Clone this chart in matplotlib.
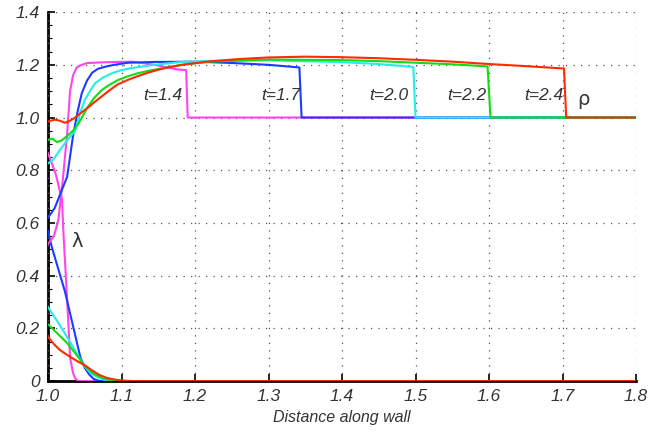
import matplotlib
matplotlib.use("Agg")
import matplotlib.pyplot as plt
from matplotlib.ticker import MultipleLocator, FixedLocator

# ---- data ----
# rho curves
x_rho_m = [1.0, 1.008, 1.014, 1.02, 1.026, 1.03, 1.034, 1.039, 1.046, 1.054, 1.08, 1.114, 1.145, 1.177, 1.188, 1.19, 1.8]
y_rho_m = [0.52, 0.55, 0.61, 0.76, 0.94, 1.1, 1.16, 1.19, 1.2, 1.207, 1.21, 1.212, 1.2, 1.182, 1.18, 1.0, 1.0]

x_rho_b = [1.0, 1.009, 1.026, 1.034, 1.04, 1.046, 1.053, 1.06, 1.068, 1.078, 1.09, 1.109, 1.145, 1.2, 1.25, 1.3, 1.342, 1.345, 1.8]
y_rho_b = [0.62, 0.656, 0.775, 0.93, 1.02, 1.093, 1.14, 1.17, 1.185, 1.193, 1.2, 1.208, 1.211, 1.212, 1.207, 1.2, 1.19, 1.0, 1.0]

x_rho_c = [1.0, 1.007, 1.016, 1.025, 1.037, 1.044, 1.05, 1.057, 1.064, 1.075, 1.087, 1.1, 1.114, 1.145, 1.178, 1.22, 1.3, 1.4, 1.45, 1.497, 1.5, 1.8]
y_rho_c = [0.826, 0.84, 0.876, 0.91, 0.95, 1.02, 1.066, 1.1, 1.13, 1.152, 1.168, 1.18, 1.188, 1.2, 1.21, 1.215, 1.217, 1.21, 1.203, 1.192, 1.0, 1.0]

x_rho_g = [1.0, 1.006, 1.012, 1.018, 1.026, 1.034, 1.041, 1.054, 1.063, 1.073, 1.084, 1.095, 1.108, 1.122, 1.138, 1.155, 1.182, 1.22, 1.3, 1.4, 1.45, 1.5, 1.55, 1.598, 1.602, 1.8]
y_rho_g = [0.915, 0.92, 0.907, 0.912, 0.93, 0.95, 0.975, 1.04, 1.075, 1.104, 1.125, 1.142, 1.156, 1.168, 1.178, 1.187, 1.2, 1.212, 1.22, 1.218, 1.214, 1.208, 1.202, 1.194, 1.0, 1.0]

x_rho_r = [1.0, 1.009, 1.016, 1.023, 1.03, 1.037, 1.045, 1.054, 1.063, 1.073, 1.084, 1.095, 1.108, 1.122, 1.138, 1.155, 1.182, 1.22, 1.26, 1.3, 1.35, 1.4, 1.45, 1.5, 1.55, 1.6, 1.65, 1.702, 1.705, 1.8]
y_rho_r = [0.985, 0.992, 0.988, 0.98, 0.988, 1.0, 1.018, 1.037, 1.058, 1.08, 1.104, 1.126, 1.142, 1.157, 1.172, 1.185, 1.2, 1.213, 1.222, 1.228, 1.231, 1.229, 1.225, 1.219, 1.212, 1.203, 1.195, 1.186, 1.0, 1.0]

# lambda curves
x_lam_m = [1.0, 1.01, 1.019, 1.021, 1.026, 1.03, 1.034, 1.037, 1.041, 1.8]
y_lam_m = [0.865, 0.79, 0.69, 0.56, 0.31, 0.09, 0.03, 0.01, 0.0, 0.0]

x_lam_b = [1.0, 1.005, 1.023, 1.044, 1.05, 1.056, 1.062, 1.07, 1.8]
y_lam_b = [0.57, 0.51, 0.34, 0.09, 0.05, 0.025, 0.008, 0.0, 0.0]

x_lam_c = [1.0, 1.013, 1.026, 1.04, 1.05, 1.058, 1.067, 1.076, 1.088, 1.8]
y_lam_c = [0.28, 0.225, 0.167, 0.1, 0.055, 0.03, 0.015, 0.005, 0.0, 0.0]

x_lam_g = [1.0, 1.013, 1.026, 1.04, 1.05, 1.062, 1.075, 1.085, 1.095, 1.8]
y_lam_g = [0.215, 0.18, 0.144, 0.095, 0.057, 0.028, 0.01, 0.003, 0.0, 0.0]

x_lam_r = [1.0, 1.008, 1.016, 1.026, 1.04, 1.05, 1.06, 1.07, 1.08, 1.09, 1.1, 1.115, 1.8]
y_lam_r = [0.168, 0.14, 0.118, 0.099, 0.075, 0.06, 0.04, 0.023, 0.012, 0.006, 0.002, 0.0, 0.0]

series_colors = ["#ff44ee", "#1a3cff", "#22eeee", "#11dd11", "#ff2a00"]
time_labels = ["t=1.4", "t=1.7", "t=2.0", "t=2.2", "t=2.4"]
label_pos_x = [1.183, 1.343, 1.49, 1.597, 1.701]
label_pos_y = 1.083

x_ticks = [1.0, 1.1, 1.2, 1.3, 1.4, 1.5, 1.6, 1.7, 1.8]
x_ticklabels = ["1.0", "1.1", "1.2", "1.3", "1.4", "1.5", "1.6", "1.7", "1.8"]
y_ticks = [0, 0.2, 0.4, 0.6, 0.8, 1.0, 1.2, 1.4]
y_ticklabels = ["0", "0.2", "0.4", "0.6", "0.8", "1.0", "1.2", "1.4"]

rho_x = [x_rho_m, x_rho_b, x_rho_c, x_rho_g, x_rho_r]
rho_y = [y_rho_m, y_rho_b, y_rho_c, y_rho_g, y_rho_r]
lam_x = [x_lam_m, x_lam_b, x_lam_c, x_lam_g, x_lam_r]
lam_y = [y_lam_m, y_lam_b, y_lam_c, y_lam_g, y_lam_r]

plt.rcParams['font.family'] = ['Liberation Sans', 'DejaVu Sans']
text_color = "#333333"

fig = plt.figure(figsize=(6.49, 4.33), dpi=100)
ax = fig.add_axes([0.074, 0.12, 0.906, 0.852])

for xs, ys, c in zip(lam_x, lam_y, series_colors):
    ax.plot(xs, ys, color=c, lw=1.5, solid_joinstyle='round')
for xs, ys, c in zip(rho_x, rho_y, series_colors):
    ax.plot(xs, ys, color=c, lw=1.5, solid_joinstyle='round')

for lab, lx in zip(time_labels, label_pos_x):
    ax.text(lx, label_pos_y, lab, ha='right', va='center', fontsize=12.5,
            style='italic', color=text_color)
ax.text(1.72, 1.07, "ρ", ha='left', va='center', fontsize=14, color=text_color,
        family=['DejaVu Sans'])
ax.text(1.032, 0.53, "λ", ha='left', va='center', fontsize=14, color=text_color,
        family=['DejaVu Sans'])

ax.set_xlim(1.0, 1.8)
ax.set_ylim(0, 1.4)
ax.xaxis.set_major_locator(FixedLocator(x_ticks))
ax.set_xticklabels(x_ticklabels)
ax.yaxis.set_major_locator(FixedLocator(y_ticks))
ax.set_yticklabels(y_ticklabels)
ax.yaxis.set_minor_locator(MultipleLocator(0.05))

for lab in ax.get_xticklabels() + ax.get_yticklabels():
    lab.set_style('italic')
    lab.set_fontsize(12.5)
    lab.set_color(text_color)

ax.tick_params(axis='both', which='major', direction='in', length=5, width=1.2,
               pad=6, colors='black', labelcolor=text_color)
ax.tick_params(axis='y', which='minor', direction='in', length=3, width=0.8)

ax.grid(True, which='major', color='#555555', linestyle=(0, (1, 5)), linewidth=0.9)
ax.spines['top'].set_visible(False)
ax.spines['right'].set_visible(False)
ax.spines['left'].set_linewidth(2)
ax.spines['bottom'].set_linewidth(2)
ax.spines['left'].set_zorder(0.5)
ax.spines['bottom'].set_zorder(0.5)

ax.set_xlabel("Distance along wall", fontsize=11.5, style='italic', color=text_color, labelpad=4)

fig.savefig("out.png", dpi=100)
